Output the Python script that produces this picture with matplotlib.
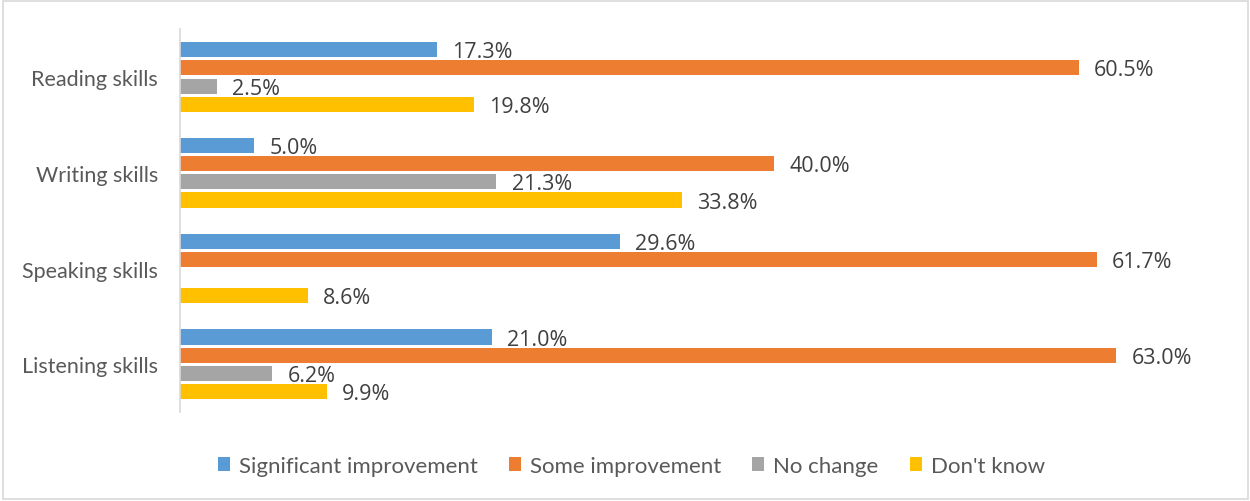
import matplotlib

matplotlib.use("Agg")
import matplotlib.pyplot as plt
import numpy as np
from matplotlib.patches import Rectangle

categories = ["Reading skills", "Writing skills", "Speaking skills", "Listening skills"]
series_names = ["Significant improvement", "Some improvement", "No change", "Don't know"]
significant = [17.3, 5.0, 29.6, 21.0]
some = [60.5, 40.0, 61.7, 63.0]
no_change = [2.5, 21.3, None, 6.2]
dont_know = [19.8, 33.8, 8.6, 9.9]

colors = ["#5B9BD5", "#ED7D31", "#A5A5A5", "#FFC000"]
text_color = "#595959"
value_color = "#404040"

plt.rcParams["font.family"] = ["Lato", "DejaVu Sans"]

fig = plt.figure(figsize=(12.5, 5.02), dpi=100)
ax = fig.add_axes([0.144, 0.177, 0.832, 0.763])

fig.patches.append(Rectangle((0.002, 0.004), 0.996, 0.992, transform=fig.transFigure,
                             fill=False, edgecolor="#D9D9D9", linewidth=1.2))

y = np.arange(len(categories))
pitch = 0.19
height = 0.158
all_series = [significant, some, no_change, dont_know]

for k, (name, vals, col) in enumerate(zip(series_names, all_series, colors)):
    pos = y + (k - 1.5) * pitch
    widths = [v if v is not None else 0 for v in vals]
    ax.barh(pos, widths, height=height, color=col, label=name)
    for p, v in zip(pos, vals):
        if v is None:
            continue
        ax.annotate(f"{v:.1f}%", (v, p), xytext=(11, -1.5), textcoords="offset points",
                    ha="left", va="center", fontsize=15.5, color=value_color,
                    family=["Open Sans", "DejaVu Sans"])

ax.set_xlim(0, 70)
ax.set_ylim(len(categories) - 0.5, -0.5)
ax.set_yticks(y)
ax.set_yticklabels(categories, fontsize=15.5, color=text_color)
ax.tick_params(axis="y", length=0, pad=16)
ax.set_xticks([])
for s in ["top", "right", "bottom"]:
    ax.spines[s].set_visible(False)
ax.spines["left"].set_color("#D9D9D9")
ax.spines["left"].set_linewidth(1.2)

leg = fig.legend(loc="center", bbox_to_anchor=(0.505, 0.07), ncol=4, frameon=False,
                 fontsize=16, handlelength=0.55, handleheight=0.55, handletextpad=0.4,
                 columnspacing=1.4)
for t in leg.get_texts():
    t.set_color(text_color)

fig.savefig("out.png", dpi=100)
